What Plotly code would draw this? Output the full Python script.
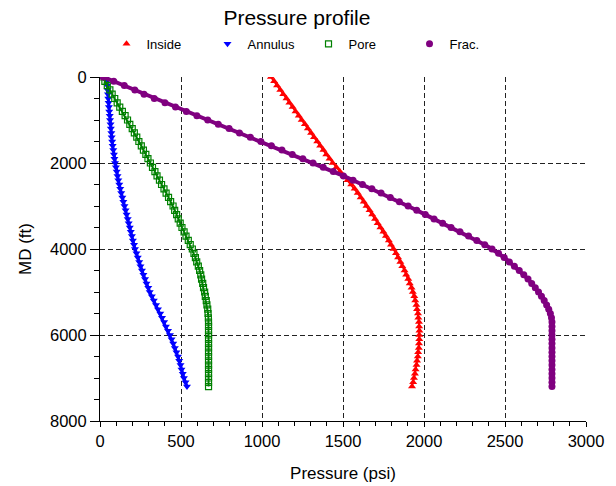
import plotly.graph_objects as go

# Measured depth (ft)
MD = [0, 100, 200, 300, 400, 500, 600, 700, 800, 900,
      1000, 1100, 1200, 1300, 1400, 1500, 1600, 1700, 1800, 1900,
      2000, 2100, 2200, 2300, 2400, 2500, 2600, 2700, 2800, 2900,
      3000, 3100, 3200, 3300, 3400, 3500, 3600, 3700, 3800, 3900,
      4000, 4100, 4200, 4300, 4400, 4500, 4600, 4700, 4800, 4900,
      5000, 5100, 5200, 5300, 5400, 5500, 5600, 5700, 5800, 5900,
      6000, 6100, 6200, 6300, 6400, 6500, 6600, 6700, 6800, 6900,
      7000, 7100, 7200]

# Pressures (psi)
inside = [1055, 1075, 1093, 1113, 1131, 1151, 1169, 1189, 1207, 1227,
          1245, 1265, 1283, 1303, 1321, 1341, 1359, 1379, 1397, 1417,
          1436, 1459, 1481, 1505, 1528, 1551, 1572, 1591, 1609, 1628,
          1645, 1664, 1680, 1698, 1714, 1731, 1749, 1765, 1783, 1796,
          1812, 1827, 1840, 1854, 1866, 1880, 1890, 1903, 1912, 1923,
          1931, 1940, 1946, 1953, 1957, 1963, 1965, 1969, 1970, 1972,
          1971, 1971, 1969, 1968, 1964, 1962, 1957, 1954, 1948, 1944,
          1938, 1933, 1926]

annulus = [42, 43, 45, 47, 49, 51, 53, 55, 57, 60,
           62, 65, 67, 70, 72, 75, 78, 82, 86, 89,
           93, 98, 103, 108, 113, 119, 125, 131, 138, 144,
           151, 158, 164, 171, 177, 184, 190, 197, 203, 210,
           216, 225, 233, 242, 250, 259, 268, 278, 287, 298,
           307, 320, 332, 346, 358, 372, 383, 396, 407, 420,
           432, 442, 452, 462, 472, 482, 489, 497, 503, 511,
           518, 528, 537]

pore = [15, 30, 45, 61, 75, 91, 106, 122, 138, 155,
        170, 184, 199, 212, 227, 240, 255, 268, 283, 296,
        311, 324, 339, 352, 367, 380, 395, 408, 423, 436,
        451, 461, 473, 483, 495, 506, 519, 531, 545, 557,
        570, 580, 589, 597, 607, 615, 622, 627, 634, 639,
        646, 650, 656, 660, 665, 667, 669, 670, 670, 670,
        670, 670, 670, 670, 670, 670, 670, 670, 670, 670,
        670, 670, 670]

frac = [20, 85, 150, 215, 272, 335, 401, 466, 533, 598,
        665, 730, 797, 861, 928, 993, 1058, 1123, 1187, 1252,
        1315, 1378, 1440, 1503, 1562, 1620, 1678, 1735, 1792, 1848,
        1902, 1955, 2008, 2062, 2115, 2167, 2222, 2275, 2326, 2375,
        2420, 2460, 2495, 2527, 2558, 2588, 2616, 2642, 2665, 2687,
        2707, 2725, 2742, 2757, 2770, 2780, 2787, 2790, 2790, 2790,
        2790, 2790, 2790, 2790, 2790, 2790, 2790, 2790, 2790, 2790,
        2790, 2790, 2790]

series = [
    ("Inside", inside, "#ff0000", "triangle-up", 7, 2),
    ("Annulus", annulus, "#0000ff", "triangle-down", 7, 3),
    ("Pore", pore, "#008000", "square-open", 6, 2),
    ("Frac.", frac, "#800080", "circle", 7, 4),
]

fig = go.Figure()
for name, vals, color, sym, size, lw in series:
    fig.add_trace(go.Scatter(
        x=vals, y=MD, mode="lines", showlegend=False, hoverinfo="skip",
        line=dict(color=color, width=lw),
    ))
    fig.add_trace(go.Scatter(
        x=vals, y=MD, mode="markers", name=name,
        marker=dict(symbol=sym, size=size, color=color,
                    line=dict(color=color, width=1.2 if sym == "square-open" else 0)),
    ))

font_family = "Liberation Sans, Arial, sans-serif"
grid = dict(showgrid=True, gridcolor="#222222", gridwidth=1, griddash="5px,3px")

fig.update_layout(
    width=616, height=486,
    paper_bgcolor="white", plot_bgcolor="white",
    margin=dict(l=100, r=30, t=77, b=65, autoexpand=False),
    font=dict(family=font_family, color="black"),
    title=dict(text="Pressure profile", x=0.482, xanchor="center",
               y=0.963, yanchor="middle", font=dict(size=21, color="black")),
    legend=dict(orientation="h", x=0.0134, xanchor="left", y=1.14, yanchor="top",
                font=dict(size=13), entrywidth=56, entrywidthmode="pixels",
                itemwidth=30, bgcolor="rgba(0,0,0,0)"),
    showlegend=True,
)

fig.update_xaxes(
    range=[0, 3000], tickvals=[0, 500, 1000, 1500, 2000, 2500, 3000],
    ticks="outside", ticklen=5, tickcolor="black", automargin=False,
    minor=dict(dtick=100, ticks="outside", ticklen=4, tickcolor="black", showgrid=False),
    showline=True, linecolor="black", linewidth=1, zeroline=False,
    tickfont=dict(size=16.5), title=dict(text="Pressure (psi)", font=dict(size=17), standoff=18),
    **grid,
)
fig.update_yaxes(
    range=[8000, 0], tickvals=[0, 2000, 4000, 6000, 8000],
    ticks="outside", ticklen=9, tickcolor="black", automargin=False,
    minor=dict(dtick=500, ticks="outside", ticklen=5, tickcolor="black", showgrid=False),
    showline=True, linecolor="black", linewidth=1, zeroline=False,
    tickfont=dict(size=16.5), title=dict(text="MD (ft)", font=dict(size=17), standoff=14),
    **grid,
)

fig.write_html("out.html", config={"displayModeBar": False},
               post_script="document.body.style.margin='0';document.body.style.overflow='hidden';")
